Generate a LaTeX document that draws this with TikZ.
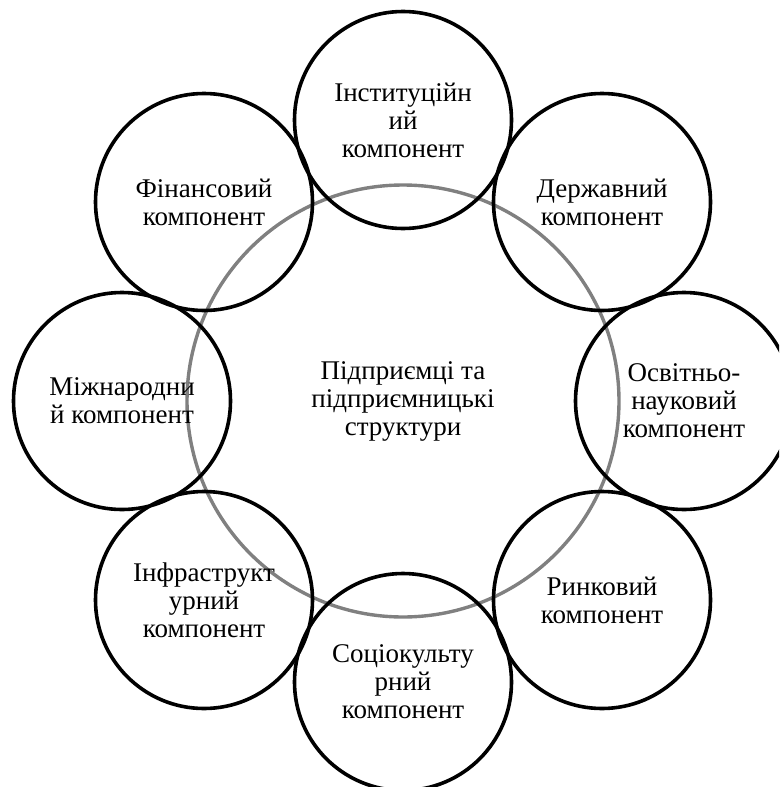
\documentclass[tikz,border=0pt]{standalone}
\usepackage{fontspec}
\setmainfont{Liberation Serif}
\definecolor{ringgray}{HTML}{808080}
\begin{document}
\begin{tikzpicture}[x=1pt,y=-1pt,
  txt/.style={align=center, font=\fontsize{27}{28}\selectfont, inner sep=0pt},
  comp/.style={txt, circle, draw=black, line width=3.6pt, minimum size=217pt},
  core/.style={txt, circle, draw=ringgray, line width=3.4pt, minimum size=432pt}]
\path[use as bounding box] (0,0) rectangle (779,787);
\clip (0,0) rectangle (779,787);
\node[core] (c) at (403,401) {Підприємці та\\підприємницькі\\структури};
\node[comp] (inst) at (403,120) {Інституційн\\ий\\компонент};
\node[comp] (derzh) at (602,202) {Державний\\компонент};
\node[comp] (osv) at (684,401) {Освітньо-\\науковий\\компонент};
\node[comp] (ryn) at (602,600) {Ринковий\\компонент};
\node[comp] (soc) at (403,682) {Соціокульту\\рний\\компонент};
\node[comp] (infr) at (204,600) {Інфраструкт\\урний\\компонент};
\node[comp] (mizh) at (122,401) {Міжнародни\\й компонент};
\node[comp] (fin) at (204,202) {Фінансовий\\компонент};
\end{tikzpicture}
\end{document}
